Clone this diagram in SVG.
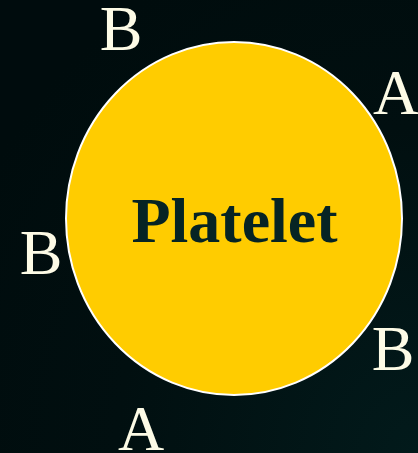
<svg xmlns="http://www.w3.org/2000/svg" width="418" height="453" viewBox="0 0 418 453">
<defs>
<radialGradient id="bg" cx="1" cy="1" r="1.2">
<stop offset="0" stop-color="#021a1b"/>
<stop offset="0.6" stop-color="#010f10"/>
<stop offset="1" stop-color="#000c0d"/>
</radialGradient>
</defs>
<style>
.lbl{font-family:"Liberation Serif","Times New Roman",serif;font-size:64px;fill:#fdfbe6;text-anchor:middle}
.title{font-family:"Liberation Serif","Times New Roman",serif;font-size:64px;font-weight:bold;fill:#062424;text-anchor:middle}
</style>
<rect width="418" height="453" fill="url(#bg)"/>
<g id="platelet">
<ellipse cx="234" cy="218.5" rx="168" ry="176.5" fill="#ffcc00" stroke="#ffffff" stroke-width="2"/>
<text class="title" x="234.5" y="242">Platelet</text>
</g>
<g id="labels">
<text class="lbl" x="121" y="50">B</text>
<text class="lbl" x="396" y="114">A</text>
<text class="lbl" x="41" y="274">B</text>
<text class="lbl" x="393" y="370">B</text>
<text class="lbl" x="141" y="450">A</text>
</g>
</svg>
